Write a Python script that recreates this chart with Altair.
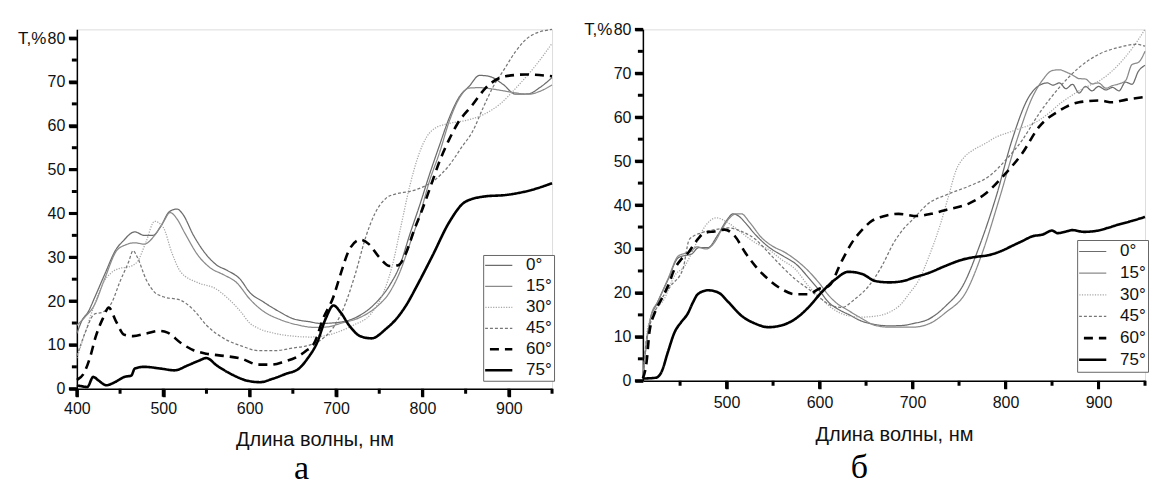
import altair as alt
import pandas as pd

ANGLES = ["0°", "15°", "30°", "45°", "60°", "75°"]
COLORS = ["#6c6c6c", "#8a8a8a", "#a6a6a6", "#777777", "#000000", "#000000"]
DASHES = [[1, 0], [1, 0], [1.2, 1.4], [3, 2], [9, 6], [1, 0]]

# ---------------- panel a ----------------
A0_X = [400,406,413,421,432,446,453,467,478,488,497,507,516,522,535,547,562,574,589,600,616,635,650,669,682,705,728,747,762,774,785,797,808,820,831,843,854,866,877,893,908,923,935,950]
A0_Y = [12.6,15.6,17.5,21,26,32,33.6,35.8,35,35,37,40.4,41,40,35,31.3,28.2,27,25,22,19.8,17.5,16,15.3,14.9,15.2,16.8,19.8,23.6,28.2,35,42,48.8,55.7,61.8,66.7,69,71.5,71.3,69.5,67.2,67.3,68.6,71]
A15_X = [400,410,420,432,446,456,467,478,490,500,508,515,525,540,555,570,585,600,615,635,655,675,690,705,728,747,762,774,785,797,808,820,831,843,854,866,877,893,908,923,935,950]
A15_Y = [14.5,16.5,19,25,31.5,32.8,33.3,33,35,38,40.2,39,35.5,30.5,27.5,26,24.2,20.5,17.8,15.8,14.6,14.0,14.1,14.9,16.3,18.7,22,26.7,32.8,39.7,47.3,54,61,66.4,68.6,68.7,68.5,68,67.5,67.2,67.8,69.3]
A30_X = [400,410,420,430,440,450,460,470,480,490,500,510,520,540,560,575,590,600,610,630,650,670,690,700,720,740,755,765,775,785,795,805,815,830,850,870,890,910,930,950]
A30_Y = [7,13,19,24,26.5,27.5,27.8,29,33.5,38.2,36.8,31,26.7,24.2,22.9,20.6,17.5,15,13.8,12.6,12,11.8,12.2,12.8,14.5,17,22,28,37,46,53,57.5,59.5,60.5,61.2,62.5,65,69,73.5,78.8]
A45_X = [400,410,420,430,440,450,460,465,470,480,490,500,520,535,550,570,590,610,630,650,670,685,697,710,722,735,745,758,770,785,800,812,831,845,858,870,881,895,908,925,950]
A45_Y = [7.5,13,17,17.5,19.5,24.5,29,31.5,30,25,22,21,20.2,18,14.5,11.5,9.8,8.7,8.7,9.3,10,11.5,14,19,26,35,40,43.5,44.5,45,46,47.3,51,55,58.7,64,68.6,73,77,80.5,82]
A60_X = [400,408,415,422,430,437,445,455,465,480,495,505,520,535,550,570,590,610,625,640,655,665,675,685,697,705,716,728,738,750,762,772,781,790,800,810,820,830,840,858,873,896,920,950]
A60_Y = [2,3.5,7,12,16,18.5,15.5,12.3,12,12.6,13.2,12.8,10.5,8.8,8,7.5,6.9,5.5,5.5,6.2,7.3,8.6,10.5,16,21,26,32,34,33,30,28,28.2,31,36,41,46.5,52,56.5,60.3,64.8,68.6,71.3,71.7,71.3]
A75_X = [400,405,412,419,425,434,444,455,463,467,478,497,513,528,540,550,562,580,596,612,627,642,657,667,678,688,697,705,715,728,741,758,770,781,795,812,831,850,873,896,927,950]
A75_Y = [0.8,0.6,0.4,2.7,1.9,0.8,1.5,2.7,3,4.6,5,4.6,4.2,5.3,6.3,7,5.3,3.2,1.9,1.5,2.3,3.4,4.6,6.9,10.5,16,19,17.5,14.5,12,11.5,13.7,16,19,24,30.5,38,42.7,43.9,44.2,45.4,46.9]

# ---------------- panel b ----------------
B0_X = [410,413,418,425,437,448,455,462,470,480,490,500,507,513,520,530,545,560,575,590,600,610,620,632,645,660,675,690,700,718,736,754,772,790,807,825,836,845,851,858,865,872,879,886,893,900,908,915,922,929,936,943,950]
B0_Y = [0.5,7,14,17.5,23,28,28.5,28.8,30.3,30.3,33,36.5,38,37.5,36,33.5,30.5,28.5,26.5,23,20.5,17.8,16.3,15,13.6,12.8,12.5,12.6,13,14.1,17.1,21.6,30.7,42,54.8,64.6,67.2,67.8,67.3,67.8,66.5,67.5,65.5,67,66,67,66.2,66.8,66,68,67.5,70.5,71.8]
B15_X = [410,414,419,426,437,448,455,462,468,478,487,495,503,510,516,525,538,549,563,574,588,599,610,617,631,646,660,675,700,718,736,757,775,793,811,829,840,850,858,865,872,879,886,893,900,908,915,922,929,936,943,950]
B15_Y = [0.5,9,15,18,23.2,28.4,29,29.5,30.5,30,31.5,34.5,37,38,38,36,32.5,30.7,29.2,27.6,25,22.4,19.4,17.9,16,14.1,12.6,12.2,12.2,13,15.6,20,29.1,41.2,54,64.6,68.5,70.6,70.8,70.3,69.6,68.8,68.7,67.6,67.8,66.6,67.2,67.6,68.3,72,72.5,75]
B30_X = [410,412,415,422,433,444,455,466,477,489,502,516,531,545,559,574,588,602,617,631,646,660,675,686,697,707,718,729,738,747,756,765,778,790,803,815,826,836,847,858,868,879,890,901,915,926,937,950]
B30_Y = [0.5,5,11.8,15.6,18.6,23.9,26.1,30.7,35.2,37.1,35.9,33.7,31.4,29.9,27.6,25.4,21.6,18.6,16,14.8,14.5,14.7,15.6,17.1,20,23,28.5,35,41.5,48,51,52.5,54,55.5,56.5,57.4,58.2,59.3,61,63,64.5,66,67.2,68.3,70.6,73,75.9,80]
B45_X = [410,413,418,426,440,453,460,473,487,502,516,531,545,559,574,588,602,613,624,638,653,667,680,690,700,718,736,764,782,800,818,836,858,879,901,922,940,950]
B45_Y = [0.5,8,13,17.1,21.6,25.4,32.2,33.7,34.4,34.8,34,32.2,29.2,26.1,23.1,20.9,18.6,17.1,16.7,18.6,21.6,26.1,31.5,34.5,36.7,40.5,42.3,44.6,46.5,50.2,54.8,60.8,66.8,71.3,74.4,75.9,76.6,76.2]
B60_X = [410,414,417,423,430,437,444,451,459,466,477,487,498,509,520,531,545,559,574,588,599,610,624,635,646,657,668,685,705,720,736,761,779,797,818,836,858,879,901,915,930,950]
B60_Y = [0.5,4.3,11,15.6,18.6,21.6,25.4,27.6,29.2,31.4,33.7,34,34.4,32.9,29.2,26.1,23.1,20.9,19.7,19.7,20.9,21.6,27.3,31.5,34.4,36.5,37.4,38,37.5,38,38.9,40.4,42.7,46.5,51.8,57.8,61.5,63.4,63.8,63.4,64,64.6]
B75_X = [410,424,430,437,444,451,458,464,469,480,491,502,516,531,545,559,574,588,602,617,631,646,660,675,690,700,718,736,754,768,782,795,807,818,829,840,850,856,862,872,884,897,910,922,936,950]
B75_Y = [0.5,0.7,2,6.6,11,13.3,15.2,17.9,19.7,20.6,20.1,17.9,14.8,13,12.2,12.6,14.1,16.7,20.1,23.1,24.8,24.3,22.7,22.4,22.7,23.4,24.6,26.2,27.6,28.2,28.6,29.5,30.7,31.8,32.9,33.3,34.2,33.6,33.8,34.3,33.9,34.1,34.8,35.6,36.4,37.3]

# tick positions (axis values)
A_XMAJOR = [400, 500, 600, 700, 800, 900]
B_XMAJOR = [500, 600, 700, 800, 900]
XMINOR = [450, 550, 650, 750, 850, 950]
YMAJOR = [0, 10, 20, 30, 40, 50, 60, 70, 80]
YMINOR = [5, 15, 25, 35, 45, 55, 65, 75]

X_TITLE = "Длина волны, нм"
Y_TITLE = "T,%"
FONT = "Liberation Sans"
THICK_TEST = "indexof(['60°','75°'], datum.angle) >= 0"
THICK_SIG = "indexof(['60°','75°'], datum.value) >= 0 ? 2.6 : 1.2"
MAJ, MIN, TW = 8, 5, 3


def frame(series):
    rows = []
    for ang, xs, ys in series:
        for x, y in zip(xs, ys):
            rows.append({"wl": x, "T": y, "angle": ang})
    return pd.DataFrame(rows)


def panel(series, xdom, ydom, xmajor, w, h, legx, legy, cliph, rowpad,
          ytitle_y, xtitle_y, xlabpad, letter, lx, ly):
    df = frame(series)
    leg = alt.Legend(
        title=None, orient="none", legendX=legx, legendY=legy,
        symbolType="stroke", symbolSize=1400, clipHeight=cliph,
        rowPadding=rowpad, padding=2, labelOffset=24,
        symbolStrokeWidth=alt.ExprRef(THICK_SIG),
        labelFont=FONT, labelFontSize=17, labelColor="#111",
        strokeColor="#666666", fillColor="white", labelLimit=200,
    )
    xaxis = alt.Axis(
        orient="bottom", values=xmajor, title=X_TITLE, titleFont=FONT, titleFontSize=20,
        titleFontWeight="normal", titleColor="#111", titleY=xtitle_y,
        titleBaseline="middle",
        labelFont=FONT, labelFontSize=16, labelColor="#111", labelPadding=xlabpad,
        labelOverlap=False, labelFlush=False, ticks=True, tickSize=MAJ,
        tickColor="black", tickWidth=TW,
        domainColor="black", domainWidth=1.5, grid=False,
    )
    yaxis = alt.Axis(
        orient="left", values=YMAJOR, title=Y_TITLE, titleAngle=0,
        titleAlign="right", titleBaseline="middle", titleX=-31, titleY=ytitle_y,
        titleFont=FONT, titleFontSize=17, titleFontWeight="normal", titleColor="#111",
        labelFont=FONT, labelFontSize=16, labelColor="#111", labelPadding=4,
        labelOverlap=False, labelFlush=False, ticks=True, tickSize=MAJ,
        tickColor="black", tickWidth=TW,
        domainColor="black", domainWidth=1.5, grid=False,
    )
    xscale = alt.Scale(domain=xdom, nice=False, zero=False)
    yscale = alt.Scale(domain=ydom, nice=False, zero=False)

    lines = alt.Chart(df).mark_line(interpolate="monotone").encode(
        x=alt.X("wl:Q", scale=xscale, axis=xaxis),
        y=alt.Y("T:Q", scale=yscale, axis=yaxis),
        color=alt.Color("angle:N", scale=alt.Scale(domain=ANGLES, range=COLORS), legend=leg),
        strokeDash=alt.StrokeDash("angle:N", scale=alt.Scale(domain=ANGLES, range=DASHES), legend=leg),
        strokeWidth=alt.condition(THICK_TEST, alt.value(2.6), alt.value(1.25)),
    )

    def xticks(vals, size):
        return alt.Chart(pd.DataFrame({"wl": vals})).mark_rule(
            color="black", strokeWidth=TW
        ).encode(x=alt.X("wl:Q", scale=xscale, axis=xaxis),
                 y=alt.value(h), y2=alt.value(h + size))

    def yticks(vals, size):
        return alt.Chart(pd.DataFrame({"T": vals})).mark_rule(
            color="black", strokeWidth=TW
        ).encode(y=alt.Y("T:Q", scale=yscale, axis=yaxis),
                 x=alt.value(-size), x2=alt.value(0))

    txt = alt.Chart(pd.DataFrame({"t": [letter]})).mark_text(
        font="Liberation Serif", fontSize=34, color="black", align="center", baseline="middle"
    ).encode(text="t:N", x=alt.value(lx), y=alt.value(ly))
    return alt.layer(
        lines, xticks(xmajor, MAJ), xticks(XMINOR, MIN), yticks(YMAJOR, MAJ), yticks(YMINOR, MIN), txt
    ).properties(width=w, height=h)


left = panel(
    [("0°", A0_X, A0_Y), ("15°", A15_X, A15_Y), ("30°", A30_X, A30_Y),
     ("45°", A45_X, A45_Y), ("60°", A60_X, A60_Y), ("75°", A75_X, A75_Y)],
    [400, 950], [0, 82], A_XMAJOR,
    476, 360, 407, 226, 17, 3, 8.8, 51, 4, "а", 225, 440,
)
right = panel(
    [("0°", B0_X, B0_Y), ("15°", B15_X, B15_Y), ("30°", B30_X, B30_Y),
     ("45°", B45_X, B45_Y), ("60°", B60_X, B60_Y), ("75°", B75_X, B75_Y)],
    [410, 950], [0, 80], B_XMAJOR,
    503, 352, 435, 211, 19, 2.7, 0, 54, 6, "б", 217, 439,
)

chart = alt.hconcat(left, right, spacing=91, bounds="flush").resolve_scale(
    color="independent", strokeDash="independent"
).resolve_legend(
    color="independent", strokeDash="independent"
).properties(
    padding={"left": 17, "top": 19, "right": 0, "bottom": 0}
).configure_view(stroke=None).configure(background="white")

chart.save("out.html", embed_options={"renderer": "svg", "actions": False})
